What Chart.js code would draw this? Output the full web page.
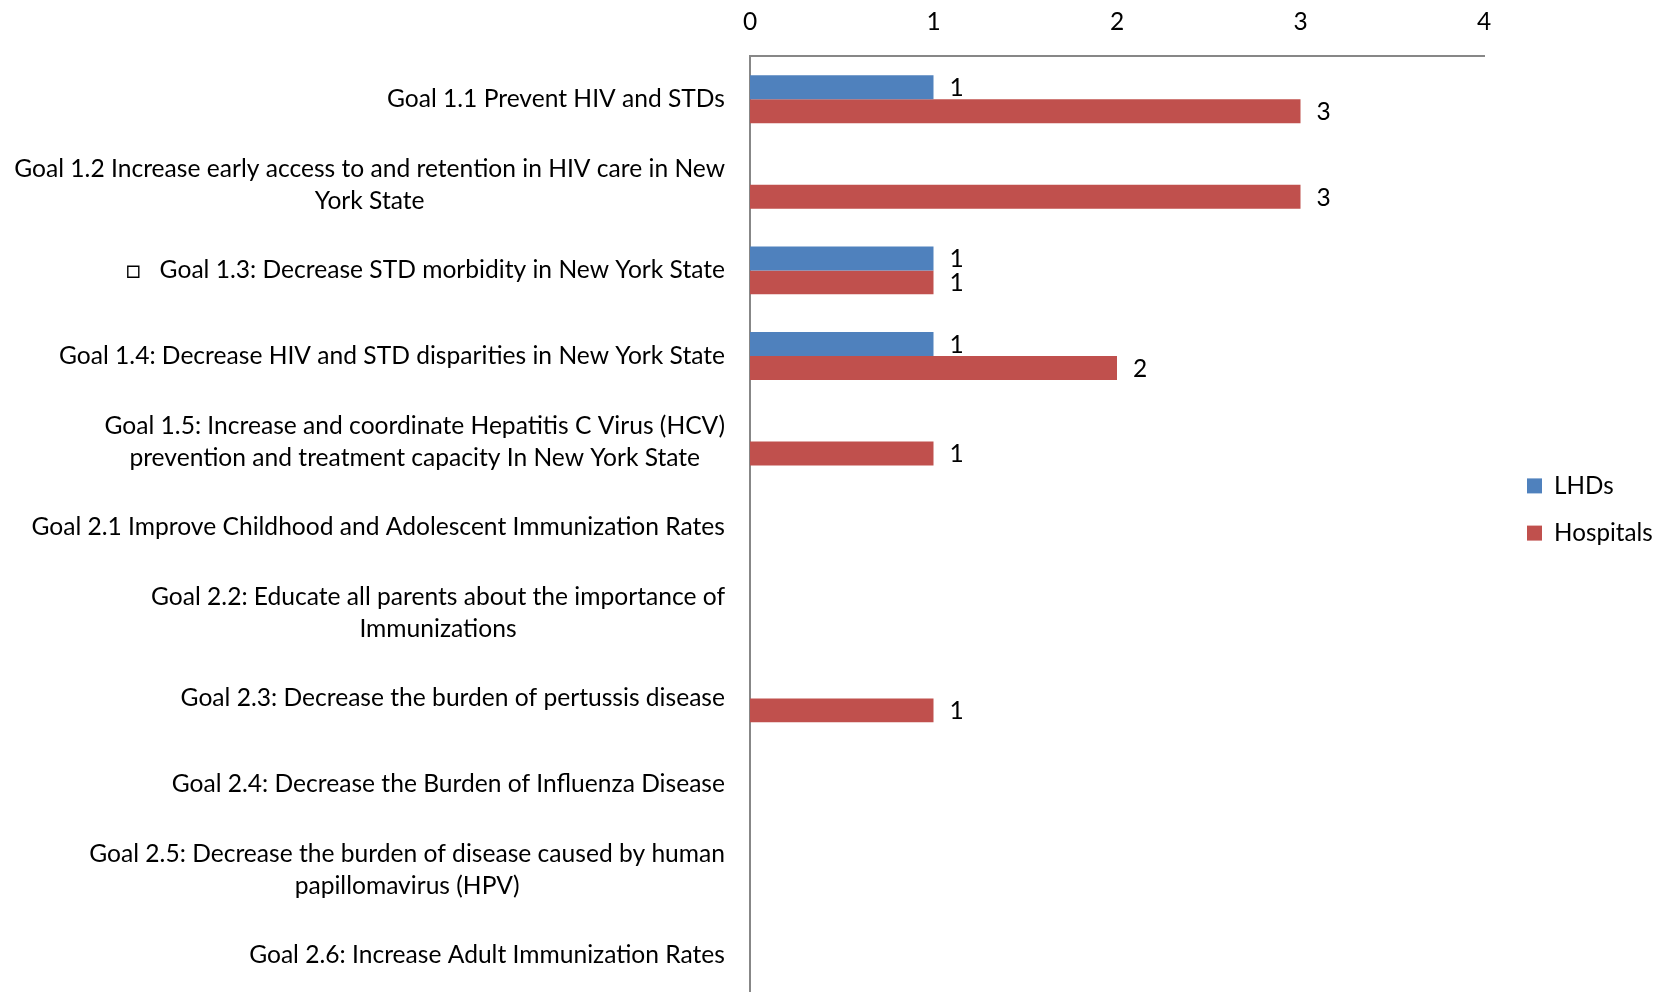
<!DOCTYPE html>
<html>
<head>
<meta charset="utf-8">
<script src="https://cdn.jsdelivr.net/npm/chart.js@4"></script>
<style>
	html, body { margin: 0; padding: 0; background: #fff; overflow: hidden; }
	#wrap { width: 1667px; height: 1017px; margin-top: -17px; position: relative; }
</style>
</head>
<body>
<div id="wrap"><canvas id="goalsChart"></canvas></div>
<script>
	// Goals, one entry per row (line breaks as in the original)
	const goalLabels = [
		'Goal 1.1 Prevent HIV and STDs',
		['Goal 1.2 Increase early access to and retention in HIV care in New', 'York State'],
		'\u25A1   Goal 1.3: Decrease STD morbidity in New York State',
		'Goal 1.4: Decrease HIV and STD disparities in New York State',
		['Goal 1.5: Increase and coordinate Hepatitis C Virus (HCV)', 'prevention and treatment capacity In New York State'],
		'Goal 2.1 Improve Childhood and Adolescent Immunization Rates',
		['Goal 2.2: Educate all parents about the importance of', 'Immunizations'],
		'Goal 2.3: Decrease the burden of pertussis disease',
		'Goal 2.4: Decrease the Burden of Influenza Disease',
		['Goal 2.5: Decrease the burden of disease caused by human', 'papillomavirus (HPV)'],
		'Goal 2.6: Increase Adult Immunization Rates'
	];
	const lhdValues = [1, 0, 1, 1, 0, 0, 0, 0, 0, 0, 0];
	const hospitalValues = [3, 3, 1, 2, 1, 0, 0, 1, 0, 0, 0];
	const xMin = 0;
	const xMax = 4;
	const xStep = 1;

	const FONT = 'Lato, "Open Sans", sans-serif';
	const LABEL_SIZE = 24.6;
	const LABEL_RIGHT = 725;
	const LINE_HEIGHT = 32;

	// Category labels: block right-aligned, lines centered inside the block
	const goalLabelPlugin = {
		id: 'goalLabels',
		afterDraw(chart) {
			const ctx = chart.ctx;
			const yScale = chart.scales.y;
			ctx.save();
			ctx.font = LABEL_SIZE + 'px ' + FONT;
			ctx.fillStyle = '#000';
			ctx.textAlign = 'center';
			ctx.textBaseline = 'middle';
			goalLabels.forEach(function(label, i) {
				const lines = Array.isArray(label) ? label : [label];
				const blockWidth = Math.max.apply(null, lines.map(function(l) { return ctx.measureText(l).width; }));
				const cx = LABEL_RIGHT - blockWidth / 2;
				const cy = yScale.getPixelForValue(i);
				lines.forEach(function(line, j) {
					ctx.fillText(line, cx, cy + (j - (lines.length - 1) / 2) * LINE_HEIGHT);
				});
			});
			ctx.restore();
		}
	};

	// Value labels at the end of each bar
	const valueLabelPlugin = {
		id: 'valueLabels',
		afterDatasetsDraw(chart) {
			const ctx = chart.ctx;
			ctx.save();
			ctx.font = '24.5px ' + FONT;
			ctx.fillStyle = '#000';
			ctx.textAlign = 'left';
			ctx.textBaseline = 'middle';
			chart.data.datasets.forEach(function(ds, di) {
				const meta = chart.getDatasetMeta(di);
				meta.data.forEach(function(bar, i) {
					if (!ds.data[i]) return;
					ctx.fillText(String(ds.data[i]), bar.x + 16, bar.y + 1);
				});
			});
			ctx.restore();
		}
	};

	// Give the legend a fixed width and nudge it to where the original sits
	const legendPlacePlugin = {
		id: 'legendPlace',
		afterInit(chart) {
			const legend = chart.legend;
			const fit = legend.fit;
			legend.fit = function() {
				fit.call(this);
				if (this.isHorizontal && !this.isHorizontal()) this.width = 183;
			};
		},
		afterLayout(chart) {
			const legend = chart.legend;
			legend.left += 20;
			legend.right += 20;
			legend.top += 17;
			legend.bottom += 17;
		}
	};

	const ctx = document.getElementById('goalsChart').getContext('2d');
	new Chart(ctx, {
		type: 'bar',
		data: {
			labels: goalLabels,
			datasets: [{
				label: 'LHDs',
				data: lhdValues,
				backgroundColor: '#4F81BD',
				borderWidth: 0
			}, {
				label: 'Hospitals',
				data: hospitalValues,
				backgroundColor: '#C0504D',
				borderWidth: 0
			}]
		},
		options: {
			indexAxis: 'y',
			responsive: true,
			maintainAspectRatio: false,
			animation: false,
			datasets: {
				bar: {
					barPercentage: 1,
					categoryPercentage: 0.56
				}
			},
			layout: {
				padding: { top: 4, right: 0, bottom: 2, left: 0 }
			},
			plugins: {
				legend: {
					position: 'right',
					labels: {
						boxWidth: 15,
						boxHeight: 15,
						padding: 23,
						color: '#000',
						font: { family: FONT, size: 24.2 }
					}
				},
				tooltip: { enabled: false }
			},
			scales: {
				x: {
					position: 'top',
					min: xMin,
					max: xMax,
					ticks: {
						stepSize: xStep,
						color: '#000',
						padding: 20,
						font: { family: FONT, size: 24.5 }
					},
					grid: { display: false, drawTicks: false },
					border: { display: true, color: '#878787', width: 2 }
				},
				y: {
					ticks: { display: false },
					grid: { display: false, drawTicks: false },
					border: { display: true, color: '#878787', width: 2 },
					afterFit(scale) {
						scale.width = 750;
					}
				}
			}
		},
		plugins: [goalLabelPlugin, valueLabelPlugin, legendPlacePlugin]
	});
</script>
</body>
</html>
